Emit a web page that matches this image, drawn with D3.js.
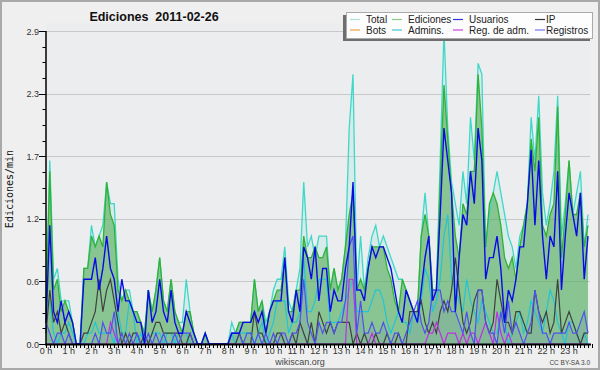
<!DOCTYPE html>
<html>
<head>
<meta charset="utf-8">
<script src="https://cdn.jsdelivr.net/npm/d3@7"></script>
<style>
  body { margin: 0; background: #efefef; }
  svg { display: block; }
</style>
</head>
<body>
<script>
'use strict';

var width = 600;
var height = 370;

// ediciones/min, una muestra cada 10 minutos (6 por hora)
var total = [
  0.4, 1.7, 0.6, 0.7, 0.4, 0.4,
  0.4, 0.2, 0.0, 0.0, 0.7, 0.7,
  1.1, 0.9, 1.0, 1.1, 1.5, 1.3,
  1.3, 0.6, 0.4, 0.5, 0.5, 0.3,
  0.3, 0.2, 0.1, 0.5, 0.3, 0.5,
  0.8, 0.4, 0.3, 0.6, 0.3, 0.2,
  0.2, 0.6, 0.3, 0.1, 0.0, 0.0,
  0.1, 0.0, 0.0, 0.0, 0.0, 0.0,
  0.0, 0.2, 0.1, 0.2, 0.2, 0.2,
  0.2, 0.6, 0.3, 0.4, 0.2, 0.3,
  0.5, 0.6, 0.6, 0.9, 0.4, 0.3,
  0.5, 0.7, 1.5, 0.9, 1.0, 0.8,
  1.0, 1.0, 1.0, 0.5, 0.7, 0.5,
  0.6, 0.9, 2.0, 2.5, 0.5, 1.0,
  0.5, 0.8, 1.0, 1.1, 0.9, 1.0,
  0.9, 0.8, 0.7, 0.6, 0.6, 0.5,
  0.4, 0.3, 0.3, 1.0, 1.4, 1.0,
  0.5, 0.5, 1.7, 2.9, 2.0, 1.5,
  1.3, 1.1, 1.6, 1.3, 2.1, 1.7,
  2.6, 2.5, 0.9, 1.2, 1.4, 1.6,
  1.4, 1.2, 1.0, 0.9, 0.7, 1.0,
  1.1, 1.3, 2.1, 1.7, 2.3, 1.4,
  1.1, 1.3, 1.6, 2.3, 1.0, 1.3,
  1.7, 1.2, 1.4, 1.6, 0.9, 1.2
];
var ediciones = [
  0.3, 1.6, 0.5, 0.6, 0.3, 0.4,
  0.3, 0.2, 0.0, 0.0, 0.7, 0.7,
  1.0, 0.9, 1.0, 0.9, 1.5, 1.2,
  1.1, 0.5, 0.4, 0.5, 0.4, 0.3,
  0.3, 0.2, 0.1, 0.5, 0.3, 0.5,
  0.8, 0.4, 0.3, 0.6, 0.3, 0.2,
  0.1, 0.3, 0.3, 0.1, 0.0, 0.0,
  0.1, 0.0, 0.0, 0.0, 0.0, 0.0,
  0.0, 0.1, 0.1, 0.2, 0.2, 0.2,
  0.2, 0.6, 0.3, 0.4, 0.1, 0.3,
  0.4, 0.5, 0.5, 0.8, 0.3, 0.3,
  0.5, 0.5, 1.0, 0.8, 0.8, 0.9,
  0.8, 0.8, 0.9, 0.5, 0.7, 0.5,
  0.6, 0.9, 1.2, 1.4, 0.5, 0.6,
  0.5, 0.7, 0.9, 0.9, 0.9, 0.9,
  0.7, 0.6, 0.4, 0.3, 0.6, 0.5,
  0.4, 0.3, 0.3, 1.0, 1.2, 1.0,
  0.5, 0.5, 1.5, 2.4, 1.9, 1.4,
  1.0, 0.8, 1.3, 1.2, 1.6, 1.6,
  2.5, 2.0, 0.9, 1.3, 1.4, 1.3,
  1.1, 0.8, 0.7, 0.8, 0.6, 0.9,
  1.1, 1.3, 1.9, 1.6, 2.1, 1.1,
  1.0, 1.2, 1.3, 2.2, 0.8, 1.2,
  1.7, 1.2, 1.2, 1.4, 0.9, 1.1
];
var usuarios = [
  0.2, 1.1, 0.3, 0.2, 0.4, 0.2,
  0.3, 0.2, 0.0, 0.0, 0.6, 0.6,
  0.6, 0.8, 0.5, 0.7, 1.0, 0.7,
  0.6, 0.3, 0.6, 0.4, 0.4, 0.3,
  0.2, 0.2, 0.0, 0.5, 0.2, 0.3,
  0.6, 0.3, 0.2, 0.5, 0.2, 0.1,
  0.1, 0.3, 0.2, 0.1, 0.0, 0.0,
  0.1, 0.0, 0.0, 0.0, 0.0, 0.0,
  0.0, 0.1, 0.1, 0.1, 0.2, 0.2,
  0.2, 0.3, 0.2, 0.3, 0.1, 0.3,
  0.4, 0.4, 0.4, 0.8, 0.3, 0.2,
  0.5, 0.3, 0.9, 0.8, 0.6, 0.9,
  0.4, 0.7, 0.7, 0.3, 0.5, 0.4,
  0.4, 0.7, 0.9, 1.5, 0.5, 0.5,
  0.4, 0.7, 0.9, 0.8, 0.9, 0.9,
  0.8, 0.7, 0.5, 0.3, 0.2, 0.5,
  0.4, 0.3, 0.2, 0.5, 0.8, 1.0,
  0.4, 0.5, 1.2, 2.0, 1.7, 1.4,
  0.3, 0.8, 1.2, 1.1, 1.6, 1.3,
  2.0, 1.7, 0.6, 0.8, 0.8, 1.0,
  0.7, 0.2, 0.5, 0.4, 0.6, 0.9,
  0.9, 1.3, 1.8, 1.1, 1.7, 1.0,
  0.6, 1.0, 0.9, 1.6, 0.5, 1.0,
  1.4, 1.2, 1.0, 1.4, 0.6, 1.0
];
var ip = [
  0.1, 0.5, 0.2, 0.3, 0.1, 0.2,
  0.1, 0.0, 0.0, 0.0, 0.1, 0.1,
  0.2, 0.3, 0.6, 0.3, 0.5, 0.6,
  0.4, 0.2, 0.0, 0.1, 0.0, 0.1,
  0.1, 0.0, 0.1, 0.0, 0.1, 0.2,
  0.2, 0.1, 0.1, 0.1, 0.1, 0.1,
  0.0, 0.0, 0.1, 0.0, 0.0, 0.0,
  0.0, 0.0, 0.0, 0.0, 0.0, 0.0,
  0.0, 0.0, 0.0, 0.1, 0.0, 0.0,
  0.0, 0.3, 0.1, 0.1, 0.0, 0.0,
  0.0, 0.1, 0.1, 0.0, 0.0, 0.1,
  0.0, 0.2, 0.1, 0.0, 0.2, 0.0,
  0.3, 0.2, 0.1, 0.2, 0.1, 0.2,
  0.2, 0.2, 0.2, 0.0, 0.1, 0.0,
  0.1, 0.0, 0.0, 0.1, 0.0, 0.0,
  0.1, 0.0, 0.0, 0.1, 0.0, 0.0,
  0.3, 0.3, 0.3, 0.4, 0.2, 0.1,
  0.2, 0.1, 0.3, 0.4, 0.3, 0.5,
  0.8, 0.5, 0.2, 0.1, 0.2, 0.4,
  0.5, 0.5, 0.2, 0.1, 0.2, 0.6,
  0.4, 0.2, 0.2, 0.1, 0.3, 0.3,
  0.2, 0.1, 0.1, 0.5, 0.3, 0.2,
  0.3, 0.1, 0.2, 0.6, 0.1, 0.2,
  0.3, 0.2, 0.1, 0.0, 0.1, 0.1
];
var admins = [
  0.4, 0.4, 0.1, 0.0, 0.1, 0.1,
  0.2, 0.1, 0.0, 0.0, 0.0, 0.1,
  0.1, 0.2, 0.1, 0.1, 0.1, 0.1,
  0.0, 0.3, 0.1, 0.1, 0.4, 0.3,
  0.0, 0.1, 0.0, 0.0, 0.1, 0.1,
  0.1, 0.0, 0.1, 0.1, 0.0, 0.1,
  0.1, 0.1, 0.0, 0.0, 0.0, 0.0,
  0.0, 0.0, 0.0, 0.0, 0.0, 0.0,
  0.0, 0.1, 0.0, 0.1, 0.1, 0.1,
  0.1, 0.0, 0.1, 0.2, 0.0, 0.1,
  0.2, 0.4, 0.4, 0.4, 0.1, 0.2,
  0.2, 0.3, 0.8, 0.3, 0.3, 0.4,
  0.6, 0.6, 0.6, 0.2, 0.2, 0.2,
  0.3, 0.4, 0.5, 0.6, 0.3, 0.3,
  0.3, 0.3, 0.4, 0.5, 0.5, 0.4,
  0.2, 0.1, 0.2, 0.3, 0.2, 0.2,
  0.1, 0.3, 0.2, 0.4, 0.7, 0.6,
  0.3, 0.4, 0.6, 1.0, 1.2, 0.6,
  0.5, 0.4, 0.3, 0.6, 0.4, 0.3,
  0.2, 0.4, 0.3, 0.2, 0.1, 0.1,
  0.3, 0.2, 0.0, 0.1, 0.2, 0.3,
  0.1, 0.2, 0.4, 0.3, 0.2, 0.1,
  0.3, 0.5, 0.4, 0.2, 0.1, 0.0,
  0.2, 0.2, 0.1, 0.0, 0.1, 0.0
];
var registros = [
  0.2, 0.1, 0.0, 0.1, 0.1, 0.0,
  0.1, 0.0, 0.0, 0.0, 0.0, 0.0,
  0.0, 0.1, 0.0, 0.2, 0.1, 0.1,
  0.3, 0.0, 0.1, 0.0, 0.1, 0.0,
  0.1, 0.0, 0.0, 0.1, 0.0, 0.1,
  0.0, 0.1, 0.0, 0.0, 0.1, 0.0,
  0.1, 0.1, 0.1, 0.0, 0.0, 0.0,
  0.0, 0.0, 0.0, 0.0, 0.0, 0.0,
  0.0, 0.1, 0.1, 0.1, 0.0, 0.1,
  0.1, 0.0, 0.1, 0.0, 0.1, 0.0,
  0.1, 0.0, 0.1, 0.1, 0.0, 0.1,
  0.1, 0.2, 0.6, 0.2, 0.1, 0.0,
  0.2, 0.1, 0.2, 0.2, 0.1, 0.2,
  0.2, 0.4, 0.9, 1.0, 0.1, 0.4,
  0.1, 0.1, 0.2, 0.1, 0.1, 0.2,
  0.1, 0.0, 0.1, 0.1, 0.0, 0.1,
  0.2, 0.3, 0.4, 0.2, 0.1, 0.2,
  0.5, 0.5, 0.5, 0.3, 0.4, 0.3,
  0.3, 0.2, 0.1, 0.3, 0.1, 0.0,
  0.5, 0.5, 0.2, 0.1, 0.1, 0.0,
  0.3, 0.1, 0.4, 0.1, 0.2, 0.1,
  0.0, 0.1, 0.2, 0.5, 0.3, 0.1,
  0.1, 0.0, 0.1, 0.1, 0.1, 0.1,
  0.2, 0.1, 0.1, 0.2, 0.3, 0.1
];
var regAdm = [
  0.0, 0.0, 0.0, 0.0, 0.0, 0.0,
  0.0, 0.0, 0.0, 0.0, 0.0, 0.0,
  0.0, 0.0, 0.0, 0.0, 0.0, 0.2,
  0.1, 0.0, 0.0, 0.0, 0.0, 0.0,
  0.0, 0.0, 0.0, 0.0, 0.0, 0.0,
  0.0, 0.0, 0.0, 0.0, 0.0, 0.0,
  0.0, 0.0, 0.0, 0.0, 0.0, 0.0,
  0.0, 0.0, 0.0, 0.0, 0.0, 0.0,
  0.0, 0.0, 0.0, 0.0, 0.0, 0.0,
  0.0, 0.0, 0.0, 0.0, 0.0, 0.0,
  0.0, 0.0, 0.0, 0.0, 0.0, 0.0,
  0.0, 0.0, 0.0, 0.0, 0.0, 0.0,
  0.0, 0.0, 0.0, 0.0, 0.0, 0.0,
  0.0, 0.0, 0.6, 0.6, 0.0, 0.0,
  0.0, 0.0, 0.1, 0.0, 0.0, 0.0,
  0.0, 0.0, 0.0, 0.0, 0.0, 0.0,
  0.0, 0.0, 0.0, 0.0, 0.0, 0.1,
  0.1, 0.2, 0.1, 0.0, 0.1, 0.1,
  0.1, 0.0, 0.1, 0.0, 0.1, 0.1,
  0.0, 0.1, 0.2, 0.1, 0.0, 0.3,
  0.1, 0.0, 0.1, 0.0, 0.0, 0.0,
  0.0, 0.0, 0.0, 0.0, 0.0, 0.0,
  0.0, 0.0, 0.0, 0.0, 0.0, 0.0,
  0.0, 0.0, 0.0, 0.0, 0.0, 0.0
];
var hourLabels = ['0 h','1 h','2 h','3 h','4 h','5 h','6 h','7 h','8 h','9 h','10 h','11 h',
  '12 h','13 h','14 h','15 h','16 h','17 h','18 h','19 h','20 h','21 h','22 h','23 h'];
var yMax = 2.9;

// leyenda: nombre y color, fila 1 y luego fila 2
var legendItems = [
  { name: 'Total',        color: '#a8e4dc' },
  { name: 'Ediciones',    color: '#88cc88' },
  { name: 'Usuarios',     color: '#3333dd' },
  { name: 'IP',           color: '#333333' },
  { name: 'Bots',         color: '#f0a040' },
  { name: 'Admins.',      color: '#44c8d8' },
  { name: 'Reg. de adm.', color: '#cc44dd' },
  { name: 'Registros',    color: '#7777ee' }
];

var margin = { left: 46, right: 588, top: 31, bottom: 344 };

var svg = d3.select('body').append('svg')
  .attr('width', width)
  .attr('height', height);

svg.append('rect')
  .attr('x', 1).attr('y', 1)
  .attr('width', width - 2).attr('height', height - 2)
  .attr('fill', '#efefef')
  .attr('stroke', '#a9a9a9')
  .attr('stroke-width', 2);

svg.append('rect')
  .attr('x', margin.left).attr('y', margin.top - 8)
  .attr('width', 544).attr('height', margin.bottom - margin.top + 8)
  .attr('fill', '#ecedef');

var x = d3.scaleLinear().domain([0, total.length - 1]).range([margin.left, margin.right]);
var y = d3.scaleLinear().domain([0, yMax]).range([margin.bottom, margin.top]);

var majorTicks = d3.range(0, 6).map(function(k){ return yMax * k / 5; });
var minorTicks = d3.range(0, 21).map(function(k){ return yMax * k / 20; });

// lineas de la grilla
svg.append('g').selectAll('line')
  .data(majorTicks.slice(1))
  .join('line')
  .attr('x1', margin.left).attr('x2', 590)
  .attr('y1', function(d){ return Math.round(y(d)) + 0.5; })
  .attr('y2', function(d){ return Math.round(y(d)) + 0.5; })
  .attr('stroke', '#c8c8c8')
  .attr('stroke-width', 1);

var area = function(values){
  return d3.area()
    .x(function(d, i){ return x(i); })
    .y0(y(0))
    .y1(function(d){ return y(d); })(values);
};
var line = function(values){
  return d3.line()
    .x(function(d, i){ return x(i); })
    .y(function(d){ return y(d); })(values);
};

var plot = svg.append('g');

plot.append('path').attr('d', area(total)).attr('fill', 'rgba(120,225,215,0.18)');
plot.append('path').attr('d', area(ediciones)).attr('fill', 'rgba(60,160,60,0.5)');
plot.append('path').attr('d', area(registros)).attr('fill', 'rgba(90,90,200,0.12)');

var series = [
  { values: total,     color: '#3fd8c8', w: 1.3 },
  { values: ediciones, color: '#33b133', w: 1.3 },
  { values: admins,    color: '#22c4d8', w: 1.2 },
  { values: ip,        color: '#404040', w: 1.2 },
  { values: regAdm,    color: '#c030e0', w: 1.2 },
  { values: registros, color: '#5050f0', w: 1.2 },
  { values: usuarios,  color: '#0a0ae6', w: 1.4 }
];
series.forEach(function(s){
  plot.append('path')
    .attr('d', line(s.values))
    .attr('fill', 'none')
    .attr('stroke', s.color)
    .attr('stroke-width', s.w)
    .attr('stroke-linejoin', 'miter');
});

// eje y
var yAxis = svg.append('g');
yAxis.append('line')
  .attr('x1', margin.left).attr('x2', margin.left)
  .attr('y1', margin.top).attr('y2', margin.bottom)
  .attr('stroke', '#000').attr('stroke-width', 1.5);
yAxis.selectAll('.minor')
  .data(minorTicks)
  .join('line')
  .attr('x1', margin.left - 3.5).attr('x2', margin.left)
  .attr('y1', function(d){ return Math.round(y(d)) + 0.5; })
  .attr('y2', function(d){ return Math.round(y(d)) + 0.5; })
  .attr('stroke', '#000');
yAxis.selectAll('.major')
  .data(majorTicks)
  .join('line')
  .attr('x1', margin.left - 7).attr('x2', margin.left)
  .attr('y1', function(d){ return Math.round(y(d)) + 0.5; })
  .attr('y2', function(d){ return Math.round(y(d)) + 0.5; })
  .attr('stroke', '#000');
yAxis.selectAll('text')
  .data(majorTicks)
  .join('text')
  .attr('x', margin.left - 7)
  .attr('y', function(d){ return y(d) + 3.5; })
  .attr('text-anchor', 'end')
  .attr('font-family', 'Liberation Sans, Arial, sans-serif')
  .attr('font-size', 9)
  .attr('fill', '#333')
  .text(function(d){ return d3.format('.1f')(d); });

// eje x
var xAxis = svg.append('g');
xAxis.append('line')
  .attr('x1', margin.left - 1).attr('x2', 591)
  .attr('y1', margin.bottom + 0.5).attr('y2', margin.bottom + 0.5)
  .attr('stroke', '#000').attr('stroke-width', 2);
xAxis.selectAll('.tick')
  .data(d3.range(0, total.length + 1))
  .join('line')
  .attr('x1', function(d){ return Math.round(x(d)) + 0.5; })
  .attr('x2', function(d){ return Math.round(x(d)) + 0.5; })
  .attr('y1', margin.bottom).attr('y2', margin.bottom + 4)
  .attr('stroke', '#000');
xAxis.selectAll('text')
  .data(hourLabels)
  .join('text')
  .attr('x', function(d, i){ return x(i * 6); })
  .attr('y', margin.bottom + 10)
  .attr('text-anchor', 'middle')
  .attr('font-family', 'Liberation Sans, Arial, sans-serif')
  .attr('font-size', 9)
  .attr('fill', '#333')
  .text(function(d){ return d; });

// titulos
svg.append('text')
  .attr('x', 154).attr('y', 21)
  .attr('text-anchor', 'middle')
  .attr('font-family', 'Liberation Sans, Arial, sans-serif')
  .attr('font-weight', 'bold')
  .attr('font-size', 12.5)
  .attr('fill', '#111')
  .attr('xml:space', 'preserve')
  .text('Ediciones  2011-02-26');

svg.append('text')
  .attr('transform', 'translate(13,189) rotate(-90)')
  .attr('text-anchor', 'middle')
  .attr('font-family', 'DejaVu Sans Mono, monospace')
  .attr('font-size', 10)
  .attr('fill', '#111')
  .text('Ediciones/min');

svg.append('text')
  .attr('x', 300).attr('y', 365)
  .attr('text-anchor', 'middle')
  .attr('font-family', 'Liberation Sans, Arial, sans-serif')
  .attr('font-size', 9)
  .attr('fill', '#444')
  .text('wikiscan.org');

svg.append('text')
  .attr('x', 590).attr('y', 365)
  .attr('text-anchor', 'end')
  .attr('font-family', 'Liberation Sans, Arial, sans-serif')
  .attr('font-size', 6.5)
  .attr('fill', '#444')
  .text('CC BY-SA 3.0');

// leyenda
var legend = svg.append('g');
legend.append('rect')
  .attr('x', 343).attr('y', 15).attr('width', 247).attr('height', 26)
  .attr('fill', '#6e6e6e');
legend.append('rect')
  .attr('x', 346.5).attr('y', 12.5).attr('width', 246).attr('height', 26)
  .attr('fill', '#fdfdfd')
  .attr('stroke', '#aaa');

var swatchX = [350, 392, 453, 535];
var textX = [366, 408, 469, 546];
legendItems.forEach(function(item, k){
  var col = k % 4, row = Math.floor(k / 4);
  var gy = 19.5 + row * 10.5;
  legend.append('line')
    .attr('x1', swatchX[col]).attr('x2', swatchX[col] + 10)
    .attr('y1', gy).attr('y2', gy)
    .attr('stroke', item.color).attr('stroke-width', 1.2);
  legend.append('text')
    .attr('x', textX[col]).attr('y', gy + 3.5)
    .attr('font-family', 'Liberation Sans, Arial, sans-serif')
    .attr('font-size', 10)
    .attr('fill', '#222')
    .text(item.name);
});
</script>
</body>
</html>
